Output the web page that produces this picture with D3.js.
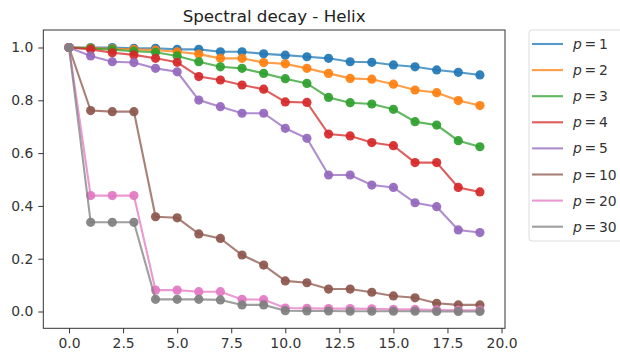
<!DOCTYPE html>
<html>
<head>
<meta charset="utf-8">
<script src="https://cdn.jsdelivr.net/npm/d3@7"></script>
<style>
  body { margin: 0; background: #fff; }
  svg { font-family: "DejaVu Sans", sans-serif; }
</style>
</head>
<body>
<div id="chart"></div>
<script>
// spectral decay values, one array per p
var steps = d3.range(0, 20);
var labels = ["1", "2", "3", "4", "5", "10", "20", "30"];
var colors = ["#1f77b4", "#ff7f0e", "#2ca02c", "#d62728", "#9467bd", "#8c564b", "#e377c2", "#7f7f7f"];

var p1  = [1, 1.0, 1.0, 0.997, 0.997, 0.993, 0.993, 0.984, 0.984, 0.976, 0.971, 0.965, 0.959, 0.946, 0.944, 0.934, 0.927, 0.915, 0.906, 0.896];
var p2  = [1, 0.998, 0.995, 0.993, 0.99, 0.984, 0.975, 0.959, 0.959, 0.943, 0.938, 0.921, 0.902, 0.883, 0.88, 0.861, 0.839, 0.829, 0.799, 0.78];
var p3  = [1, 0.996, 0.992, 0.986, 0.982, 0.968, 0.946, 0.927, 0.921, 0.902, 0.882, 0.864, 0.811, 0.791, 0.786, 0.766, 0.719, 0.706, 0.647, 0.624];
var p4  = [1, 0.993, 0.98, 0.972, 0.959, 0.944, 0.89, 0.877, 0.858, 0.842, 0.794, 0.792, 0.672, 0.665, 0.64, 0.628, 0.564, 0.564, 0.47, 0.453];
var p5  = [1, 0.968, 0.946, 0.943, 0.921, 0.908, 0.801, 0.776, 0.751, 0.751, 0.694, 0.656, 0.517, 0.517, 0.479, 0.47, 0.412, 0.397, 0.309, 0.299];
var p10 = [1, 0.761, 0.757, 0.757, 0.359, 0.355, 0.294, 0.277, 0.214, 0.176, 0.116, 0.109, 0.085, 0.085, 0.073, 0.059, 0.052, 0.031, 0.025, 0.025];
var p20 = [1, 0.439, 0.439, 0.439, 0.081, 0.081, 0.075, 0.075, 0.046, 0.045, 0.013, 0.012, 0.011, 0.011, 0.01, 0.008, 0.008, 0.006, 0.005, 0.005];
var p30 = [1, 0.338, 0.338, 0.338, 0.046, 0.046, 0.046, 0.044, 0.025, 0.025, 0.003, 0.002, 0.002, 0.001, 0.001, 0.001, 0.001, 0.0, 0.0, 0.0];
var series = [p1, p2, p3, p4, p5, p10, p20, p30];

var xTicks = [0, 2.5, 5, 7.5, 10, 12.5, 15, 17.5, 20];
var yTicks = [0, 0.2, 0.4, 0.6, 0.8, 1.0];

var width = 620, height = 353;
var svg = d3.select("#chart").append("svg").attr("width", width).attr("height", height);

var x = d3.scaleLinear().domain([-1.19, 20.16]).range([43.3, 505]);
var y = d3.scaleLinear().domain([-0.0636, 1.0663]).range([328.3, 30]);

// axes
var xAxis = svg.append("g").attr("transform", "translate(0," + y.range()[0] + ")")
    .call(d3.axisBottom(x).tickValues(xTicks).tickFormat(d3.format(".1f")).tickSizeOuter(0).tickSize(5).tickPadding(5));
var yAxis = svg.append("g").attr("transform", "translate(" + x.range()[0] + ",0)")
    .call(d3.axisLeft(y).tickValues(yTicks).tickFormat(d3.format(".1f")).tickSizeOuter(0).tickSize(5).tickPadding(5));
[xAxis, yAxis].forEach(function(a){
    a.select(".domain").remove();
    a.selectAll("line").attr("stroke", "#333").attr("stroke-width", 1);
    a.selectAll("text").attr("fill", "#333").style("font-size", "13.9px").style("font-family", "DejaVu Sans");
});

// frame
svg.append("rect").attr("x", x.range()[0]).attr("y", y.range()[1])
    .attr("width", x.range()[1] - x.range()[0]).attr("height", y.range()[0] - y.range()[1])
    .attr("fill", "none").attr("stroke", "#333").attr("stroke-width", 1);

var line = d3.line().x(function(d, i){ return x(steps[i]); }).y(function(d){ return y(d); });

series.forEach(function(s, k){
    var g = svg.append("g");
    g.append("path").datum(s).attr("d", line).attr("fill", "none")
        .attr("stroke", colors[k]).attr("stroke-width", 2.1).attr("stroke-opacity", 0.75);
    g.selectAll("circle").data(s).enter().append("circle")
        .attr("cx", function(d, i){ return x(steps[i]); })
        .attr("cy", function(d){ return y(d); })
        .attr("r", 4.6).attr("fill", colors[k]).attr("fill-opacity", 0.92);
});

// title
svg.append("text").attr("x", (x.range()[0] + x.range()[1]) / 2).attr("y", 22)
    .attr("text-anchor", "middle").attr("fill", "#222").style("font-size", "16.7px")
    .text("Spectral decay - Helix");

// legend
var legend = svg.append("g");
legend.append("rect").attr("x", 529).attr("y", 30).attr("width", 95).attr("height", 211)
    .attr("rx", 3).attr("fill", "#fff").attr("stroke", "#ddd");
labels.forEach(function(l, k){
    var ly = 44 + k * 26.1;
    legend.append("line").attr("x1", 532).attr("x2", 563).attr("y1", ly).attr("y2", ly)
        .attr("stroke", colors[k]).attr("stroke-width", 2.1).attr("opacity", 0.75);
    var t = legend.append("text").attr("x", 573).attr("y", ly + 5).attr("fill", "#333").style("font-size", "13.9px");
    t.append("tspan").style("font-style", "italic").text("p");
    t.append("tspan").text("\u2009=\u2009" + l);
});
</script>
</body>
</html>
